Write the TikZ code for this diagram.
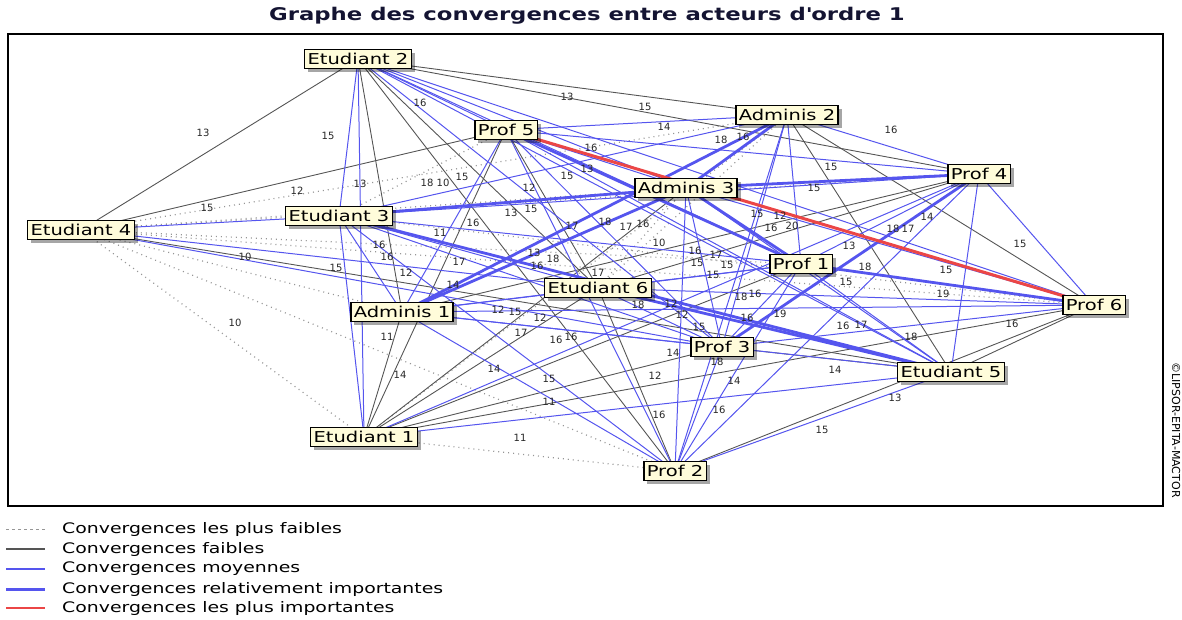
\documentclass[tikz,border=0pt]{standalone}
\usepackage{fontspec}
\setmainfont{DejaVu Sans}[FakeStretch=1.3]
\newfontfamily\numfont{DejaVu Sans}
\usetikzlibrary{shadows}
\definecolor{bl}{RGB}{85,85,238}
\definecolor{gy}{RGB}{85,85,85}
\definecolor{dt}{RGB}{150,150,150}
\definecolor{rd}{RGB}{235,70,70}
\definecolor{cream}{RGB}{255,252,218}
\pgfdeclarelayer{edges}
\pgfsetlayers{edges,main}
\tikzset{
 actor/.style={draw=black, line width=1.4pt, fill=cream, inner xsep=3pt, inner ysep=0pt,
   minimum height=19pt, font=\fontsize{15}{15}\selectfont,
   drop shadow={shadow xshift=3.5pt, shadow yshift=-3.5pt, fill=black, opacity=0.35}},
 w0/.style={dt, line width=1.2pt, dash pattern=on 1pt off 4pt},
 w1/.style={gy, line width=0.9pt},
 w2/.style={bl, line width=1pt},
 w3/.style={bl, line width=2.8pt},
 w4/.style={rd, line width=3pt},
 lbl/.style={font=\numfont\fontsize{10}{10}\selectfont, inner sep=0pt, text=black!85},
 legtxt/.style={font=\fontsize{14.5}{14.5}\selectfont, anchor=west, inner sep=0pt},
}
\begin{document}
\begin{tikzpicture}[x=1pt,y=-1pt]
\useasboundingbox (0,0) rectangle (1182,619);
% title
\node[font=\bfseries\fontsize{17.5}{17.5}\selectfont, text={rgb,255:red,20;green,20;blue,50}] (title) at (587,16) {Graphe des convergences entre acteurs d\textquotesingle ordre 1};
% frame
\draw[line width=1.5pt] (8,34) rectangle (1163,506);
\node[font=\numfont\fontsize{11}{11}\selectfont, rotate=-90, inner sep=0pt] (copy) at (1176,430) {©LIPSOR-EPITA-MACTOR};
% labels
\foreach \x/\y/\t [count=\i] in {
203/133/13, 328/136/15, 420/103/16, 567/97/13, 645/107/15, 664/127/14, 721/140/18, 743/137/16,
891/130/16, 591/148/16, 587/169/13, 567/176/15, 462/177/15, 427/183/18, 443/183/10, 360/184/13,
297/191/12, 207/208/15, 529/188/12, 511/213/13, 531/209/15, 473/223/16, 440/233/11, 572/226/17,
605/222/18, 626/227/17, 643/224/16, 659/243/10, 831/167/15, 814/188/15, 757/214/15, 780/216/12,
771/228/16, 792/226/20, 849/246/13, 927/217/14, 893/229/18, 908/229/17, 1020/244/15, 865/267/18,
946/270/15, 846/282/15, 943/294/19, 245/257/10, 336/268/15, 379/245/16, 387/257/16, 406/273/12,
459/262/17, 453/285/14, 534/253/13, 537/266/16, 553/259/18, 598/273/17, 695/251/16, 697/263/15,
716/255/17, 727/265/15, 713/275/15, 498/310/12, 515/312/15, 540/318/12, 521/333/17, 556/340/16,
571/337/16, 387/337/11, 638/305/18, 671/304/12, 682/315/12, 699/327/15, 741/297/18, 755/294/16,
747/318/16, 780/314/19, 843/326/16, 861/325/17, 911/337/18, 1012/324/16, 673/353/14, 717/362/18,
655/376/12, 734/381/14, 835/370/14, 895/398/13, 822/430/15, 659/415/16, 719/410/16, 235/323/10,
400/375/14, 494/369/14, 549/379/15, 549/402/11, 520/438/11}
  \node[lbl] (lab\i) at (\x,\y) {\t};
% actors
\foreach \n/\x/\y/\t in {
E1/364/437/Etudiant 1, E2/358/59/Etudiant 2, E3/339/216/Etudiant 3, E4/81/230/Etudiant 4,
E5/951/372/Etudiant 5, E6/598/288/Etudiant 6, A1/402/312/Adminis 1, A2/787/115/Adminis 2,
A3/686/188/Adminis 3, P1/801/264/Prof 1, P2/675/471/Prof 2, P3/722/347/Prof 3,
P4/979/174/Prof 4, P5/506/130/Prof 5, P6/1094/305/Prof 6}
  \node[actor] (\n) at (\x,\y) {\t};
% edges
\begin{pgfonlayer}{edges}
\foreach \a/\b in {E1/E4, E1/A2, E1/P2, E3/P5, E3/P6, E4/A1, E4/A2, E4/A3, E4/P1, E4/P2, E4/P4, E4/P6, E6/A2, E6/A3}
  \draw[w0] (\a.center) -- (\b.center);
\foreach \a/\b in {E1/E6, E1/A1, E1/A3, E1/P1, E1/P3, E1/P5, E1/P6, E2/E4, E2/E6, E2/A2, E2/P2, E2/P4,
  E4/E5, E4/P5, E5/A2, E5/P3, E5/P6, E6/P2, E6/P4, E6/P5, A1/P4, A2/P6, P2/P6, E2/A1}
  \draw[w1] (\a.center) -- (\b.center);
\foreach \a/\b in {E1/E2, E1/E3, E1/E5, E1/P4,
  E2/E3, E2/E5, E2/A3, E2/P1, E2/P3, E2/P5, E2/P6,
  E3/E4, E3/E6, E3/A1, E3/A2, E3/P1, E3/P2, E3/P3, E3/P4,
  E4/E6, E4/P3,
  E5/A1, E5/A3, E5/P1, E5/P2, E5/P4, E5/P5,
  E6/A1, E6/P1, E6/P3, E6/P6,
  A1/P1, A1/P2, A1/P3, A1/P5, A1/P6,
  A2/P1, A2/P2, A2/P3, A2/P4, A2/P5,
  A3/P2, A3/P3, A3/P5, A3/P6,
  P1/P2, P1/P3, P1/P4,
  P2/P3, P2/P4, P2/P5,
  P3/P5, P3/P6,
  P4/P5, P4/P6}
  \draw[w2] (\a.center) -- (\b.center);
\foreach \a/\b in {E3/E5, E3/A3, E5/E6, A1/A2, A1/A3, A2/A3, A3/P1, A3/P4, P1/P5, P1/P6, P3/P4}
  \draw[w3] (\a.center) -- (\b.center);
\draw[w4] (P5.center) -- (P6.center);
\end{pgfonlayer}
% legend
\draw[dt, line width=1pt, dash pattern=on 3pt off 3pt] (6,529) -- (45,529);
\draw[gy, line width=1.3pt] (6,549) -- (45,549);
\draw[bl, line width=1.2pt] (6,569) -- (45,569);
\draw[bl, line width=3pt] (6,589) -- (45,589);
\draw[rd, line width=2pt] (6,608) -- (45,608);
\node[legtxt] (leg1) at (62,529) {Convergences les plus faibles};
\node[legtxt] (leg2) at (62,549) {Convergences faibles};
\node[legtxt] (leg3) at (62,569) {Convergences moyennes};
\node[legtxt] (leg4) at (62,589) {Convergences relativement importantes};
\node[legtxt] (leg5) at (62,608) {Convergences les plus importantes};
\end{tikzpicture}
\end{document}
